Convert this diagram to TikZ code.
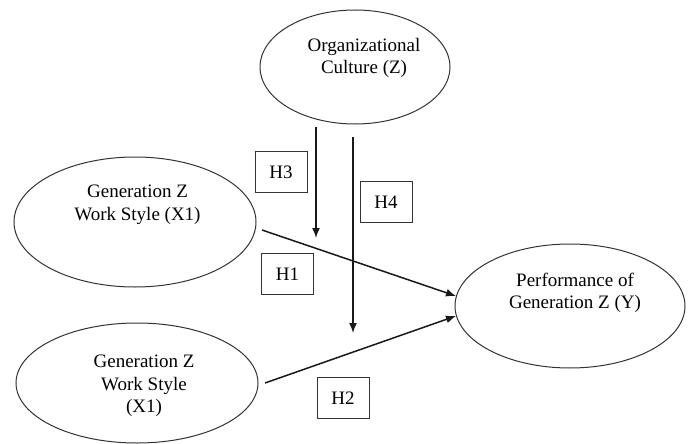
\documentclass[tikz,border=0pt]{standalone}
\usepackage{fontspec}
\setmainfont{Liberation Serif}
\newfontfamily\tmsfont{Liberation Serif}
\usetikzlibrary{shapes.geometric,arrows.meta,calc}
\begin{document}
\begin{tikzpicture}[x=1pt,y=-1pt,
  oval/.style={draw=black!80,line width=1pt,ellipse,inner sep=0pt},
  lbl/.style={align=center,font=\tmsfont\fontsize{19}{22.5}\selectfont,inner sep=0pt},
  hbox/.style={draw=black!80,line width=1pt,minimum width=52pt,minimum height=41pt,inner sep=0pt,font=\tmsfont\fontsize{19}{22.5}\selectfont},
  arr/.style={line width=1.5pt,draw=black!90,-{Latex[length=10pt,width=8pt]}}]
\useasboundingbox (0,0) rectangle (691,444);
% ellipses
\node[oval,minimum width=190pt,minimum height=114pt] (z) at (355,67) {};
\node[oval,minimum width=242pt,minimum height=130pt] (x1) at (135,222) {};
\node[oval,minimum width=242pt,minimum height=120pt] (x2) at (137,383) {};
\node[oval,minimum width=230pt,minimum height=124pt] (y) at (570,306) {};
% texts
\node[lbl] (zt) at (364,58) {Organizational\\Culture (Z)};
\node[lbl] (x1t) at (137.5,205) {Generation Z\\Work Style (X1)};
\node[lbl] (x2t) at (144,386) {Generation Z\\Work Style\\(X1)};
\node[lbl] (yt) at (575,293) {Performance of\\Generation Z (Y)};
% hypothesis boxes
\node[hbox] (h3) at (281,172) {H3};
\node[hbox] (h4) at (386,202) {H4};
\node[hbox] (h1) at (287.5,274) {H1};
\node[hbox] (h2) at (343,398) {H2};
% connector end points
\coordinate (h3s) at (316,127);
\coordinate (h3e) at (316,238);
\coordinate (h4s) at (353,137);
\coordinate (h4e) at (353,333);
\coordinate (h1s) at (262,230);
\coordinate (h2s) at (265,383);
% connectors
\draw[arr] (h3s) -- (h3e);
\draw[arr] (h4s) -- (h4e);
\draw[arr] (h1s) -- (y.175);
\draw[arr] (h2s) -- (y.185);
\end{tikzpicture}
\end{document}
